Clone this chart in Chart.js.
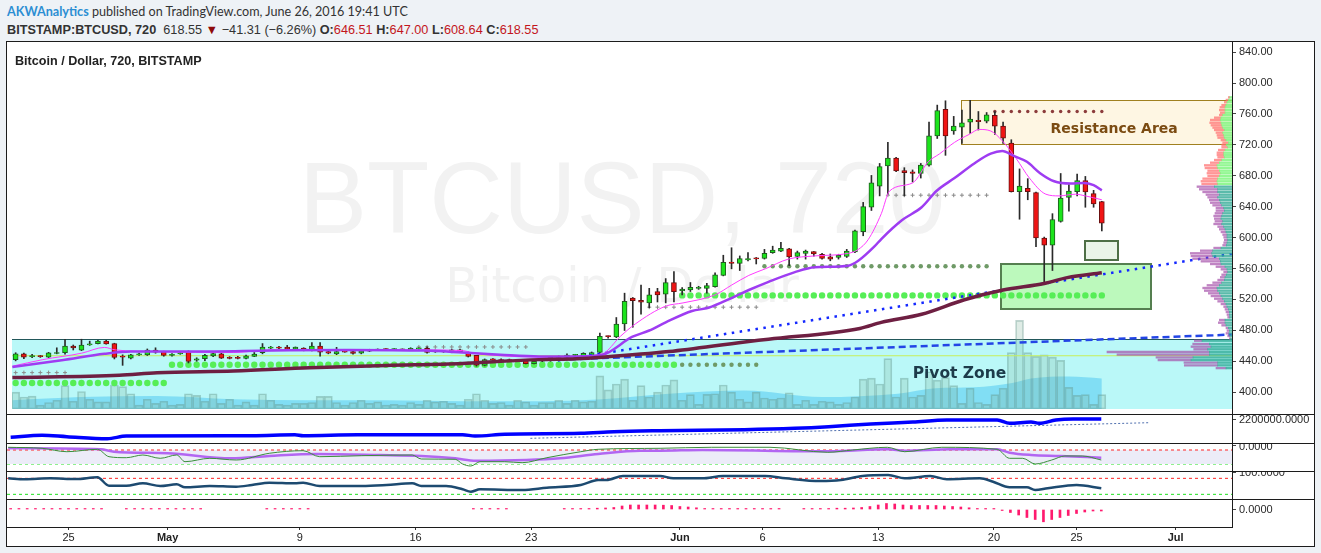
<!DOCTYPE html>
<html>
<head>
<meta charset="utf-8">
<title>BTCUSD 720</title>
<script src="https://cdn.jsdelivr.net/npm/chart.js@4.4.1/dist/chart.umd.min.js"></script>
<style>
  html, body { margin: 0; padding: 0; }
  body { width: 1321px; height: 553px; background: #eef2f6; position: relative; overflow: hidden; font-family: "Liberation Sans", Arial, sans-serif; }
  .abs { position: absolute; }
  #frame { left: 6px; top: 41px; width: 1307px; height: 504px; border: 1px solid #1c1c1c; background: #fff; }
  .hdr { left: 7px; color: #333; white-space: nowrap; }
  .red { color: #c3161c; }
  canvas { position: absolute; }
  .hl { position: absolute; height: 1px; background: #1c1c1c; z-index: 5; }
</style>
</head>
<body>
<div class="abs hdr" style="top:4px;font:12.6px Lato, sans-serif"><b style="color:#2b8ed3">AKWAnalytics</b> published on TradingView.com, June 26, 2016 19:41 UTC</div>
<div class="abs hdr" style="top:23px;font-size:12.7px"><b>BITSTAMP:BTCUSD, 720</b>&nbsp; 618.55 <span style="color:#8e0a0a">&#9660;</span> &minus;41.31 (&minus;6.26%) <b>O:</b><span class="red">646.51</span> <b>H:</b><span class="red">647.00</span> <b>L:</b><span class="red">608.64</span> <b>C:</b><span class="red">618.55</span></div>
<div id="frame" class="abs"></div>
<canvas id="cMain" width="1307" height="372" style="left:7px;top:42px;z-index:1"></canvas>
<canvas id="cProfile" width="172" height="372" style="left:1060px;top:42px;z-index:2"></canvas>
<canvas id="cObv" width="1307" height="29" style="left:7px;top:414px;z-index:1"></canvas>
<canvas id="cWpr" width="1307" height="28" style="left:7px;top:443px;z-index:1"></canvas>
<canvas id="cMfi" width="1307" height="28" style="left:7px;top:471px;z-index:1"></canvas>
<canvas id="cHist" width="1307" height="47" style="left:7px;top:499px;z-index:1"></canvas>
<div class="abs" style="left:15px;top:54px;font-size:12.6px;font-weight:bold;color:#222;z-index:3">Bitcoin / Dollar, 720, BITSTAMP</div>
<div class="hl" style="left:7px;top:414px;width:1307px"></div>
<div class="hl" style="left:7px;top:443px;width:1307px"></div>
<div class="hl" style="left:7px;top:471px;width:1307px"></div>
<div class="hl" style="left:7px;top:499px;width:1307px"></div>
<div class="hl" style="left:7px;top:527px;width:1226px"></div>
<div class="abs" style="left:1232px;top:42px;width:1px;height:485px;background:#1c1c1c;z-index:5"></div>
<script>
// 12h bars, bar 0 = Apr 21 00:00 UTC
const firstBar = 1;
const priceTicks = [400, 440, 480, 520, 560, 600, 640, 680, 720, 760, 800, 840];
const xTickBars = [8, 20, 36, 50, 64, 82, 92, 106, 120, 130, 142];
const xTickLabels = ['25', 'May', '9', '16', '23', 'Jun', '6', '13', '20', '25', 'Jul'];

const candleOpen = [442.1, 449.6, 446, 447, 445.3, 450, 451.1, 459.7, 454.2, 461, 462.9, 466, 462.9, 446, 444, 448.3, 448.3, 454.6, 452.5, 447.5,
  449.6, 452.5, 441.5, 443.3, 447, 449.6, 445, 445, 443.8, 446.4, 451.1, 457, 458, 458.2, 455.7, 457, 454.2, 459.7, 452.5, 449.6,
  452.5, 452.5, 450.6, 453, 454.5, 455.5, 455, 455.4, 454.7, 456, 456.7, 453.4, 453.4, 451.6, 454.7, 451.3, 447.5, 434.5, 442.5, 442.1,
  442, 441.8, 441.2, 437, 440, 440.8, 445, 445, 447.5, 446.2, 447.5, 451.3, 472.3, 471.4, 488.2, 521.8, 518.9, 515.5, 530.2, 526.8,
  541.9, 531, 532.2, 534.4, 534.4, 536.5, 551.1, 568.4, 566.7, 571.3, 573, 573, 580.6, 582.6, 585.6, 575.6, 579.7, 581.9, 578.5, 575,
  574.3, 575.6, 581.4, 607.8, 639.3, 666.6, 692.7, 703.1, 686.8, 685.1, 683, 693.9, 731.7, 766.1, 738, 743.1, 749.4, 751.9, 750.6, 758.2,
  744.3, 722.4, 659.4, 663.7, 658.2, 599.5, 590.2, 620.9, 651.9, 659.4, 673.8, 656.9, 646.51];
const candleHigh = [451, 450.5, 449, 447.5, 451.5, 457.4, 468.5, 461, 468.5, 466, 467.2, 467.2, 463.3, 448.3, 449, 450.5, 455.9, 457.4, 453, 450,
  452.5, 453.4, 444.5, 449, 451, 450.5, 446, 446.4, 448, 451.3, 462.9, 459.2, 459.4, 460.5, 458.5, 457.5, 464, 464, 454.6, 458,
  453.3, 453.4, 454.6, 455.5, 456, 456.4, 456.4, 456, 457.5, 457.5, 458.8, 454.5, 454.2, 455.5, 455.5, 452, 447.5, 443, 443.5, 443,
  442.8, 442.5, 442, 440.8, 442.5, 446, 446.8, 449.6, 449, 451, 452, 476.4, 473, 496.6, 528.1, 522.5, 538.5, 534.4, 534.4, 547,
  556.2, 535.3, 541.9, 537, 540.7, 554.5, 577.2, 586.9, 576.3, 580.6, 574.3, 584.8, 588.9, 594, 586, 582.6, 583.9, 582, 579.7, 578.8,
  578.5, 584.8, 609.9, 645.6, 680.5, 696, 723.3, 704, 690.5, 687.6, 696, 749.4, 771.5, 777.1, 756.9, 765.2, 777.8, 763.2, 761.9, 763.2,
  749.4, 726.7, 688.9, 676.3, 659, 600.7, 631, 683, 668.8, 682.1, 679.2, 661.2, 647];
const candleLow = [440.5, 443.3, 444.5, 445, 444.8, 449.6, 449, 454.6, 453.8, 460.5, 462.5, 462, 443, 434.7, 443, 447.5, 447.5, 450.4, 446.5, 446.5,
  449, 437.8, 440, 440.8, 446, 443.5, 443, 443, 443, 446, 449.6, 456.4, 456.4, 455.5, 455.5, 453.5, 453.5, 446.6, 449.6, 448.5,
  451.6, 449, 449.6, 452.5, 454, 454.6, 454.6, 453.8, 454, 455, 450.4, 451.5, 451.6, 451, 451, 445.5, 433.6, 434, 441, 439,
  440, 439.8, 436.5, 436.5, 439.5, 440, 444.5, 444.1, 446.8, 445.5, 447, 450.5, 470, 470.5, 479.8, 484, 500.8, 509.2, 516.7, 515.5,
  516.7, 525.9, 530.2, 533, 528.1, 536, 550.5, 559.6, 557.4, 570, 565.9, 572.2, 579.7, 581.9, 563.7, 572.2, 572.2, 576, 572.2, 570,
  572.2, 574.3, 580.5, 602.4, 635.1, 654, 656.2, 685.5, 654, 672, 677.1, 692.5, 728.3, 706.5, 733.7, 722, 735, 739.3, 748.5, 733.7,
  722, 659, 623.8, 649, 588.2, 541.9, 557.4, 620, 634.2, 654, 639.3, 639.3, 608.64];
const candleClose = [449.6, 445.3, 447, 446, 450.9, 451.3, 459.5, 457.2, 461, 462.6, 466, 462.4, 444.8, 445.3, 448.3, 449.3, 454.6, 451.6, 447.5, 449,
  451, 439.9, 443.1, 447.5, 450, 444.1, 443.8, 443.8, 447, 449.4, 458.2, 458, 457, 455.7, 458.2, 454, 459.7, 451.6, 450.6, 452.5,
  451.9, 450.2, 453.4, 455, 455.5, 455, 455.5, 454.8, 456.7, 456.5, 451.3, 452.1, 452.1, 454.7, 451.6, 446.2, 434.9, 442.1, 441.8, 439.9,
  440.5, 440.3, 437, 439.9, 441.5, 445, 445.8, 447.9, 447.9, 450.4, 451.3, 472.3, 471.8, 488.2, 517.6, 518.4, 516.4, 525.9, 525.9, 541.9,
  530.2, 533.5, 535.6, 535.6, 537.8, 552, 568, 566.7, 573, 573, 572.5, 579.7, 583.9, 586, 575, 580.6, 582.6, 578.8, 573, 572.2,
  577.2, 582.6, 608.7, 640.2, 670.8, 691.8, 703.1, 686.4, 683.9, 683, 693.9, 731.7, 764.5, 731.7, 744.3, 748.5, 753.5, 750.1, 759, 744.3,
  728.7, 659.4, 666.6, 659.4, 599.5, 590.2, 623.4, 651.1, 660.3, 673.8, 659.1, 643.6, 618.55];
const volume = [1730, 1230, 1330, 400, 670, 900, 2400, 800, 1800, 1000, 730, 730, 2470, 2300, 1570, 400, 1000, 570, 800, 400,
  470, 1570, 1400, 800, 1570, 570, 1000, 400, 730, 400, 1570, 900, 470, 400, 570, 570, 670, 1300, 1300, 670,
  400, 670, 900, 570, 730, 400, 470, 400, 670, 470, 900, 730, 800, 570, 400, 1000, 1570, 900, 570, 670,
  400, 900, 730, 400, 670, 670, 900, 570, 900, 730, 800, 3400, 1970, 2570, 3070, 900, 2400, 1230, 1730, 2470,
  3000, 900, 1470, 470, 1500, 1570, 2470, 1730, 1000, 730, 1730, 1130, 1000, 1130, 1670, 470, 900, 470, 800, 730,
  470, 670, 1230, 3070, 3170, 2570, 5170, 1230, 3170, 1230, 1400, 3830, 2970, 3230, 2400, 570, 2130, 670, 470, 1470,
  2130, 5800, 9100, 5800, 5400, 5570, 5330, 5000, 2230, 1400, 1470, 470, 1470];
const volMaBars = [0.6, 8.9, 18.2, 27.5, 36.7, 46, 55.3, 64.6, 72.3, 80.4, 89.6, 99, 108.2, 112.8, 117.5, 122.1, 124.4, 129, 133];
const volMaVals = [900, 1230, 1330, 1000, 900, 900, 800, 800, 1000, 1570, 1900, 1230, 1570, 2130, 2230, 2670, 3130, 3330, 3130];

const emaFastBars = [0.6, 4.3, 9, 11.8, 13.1, 18.2, 27.5, 32.1, 41.3, 50.7, 55.3, 56.7, 59.9, 64.6, 69.2, 72.3, 74.5, 76.3, 80, 82.1, 86, 88, 90.1,
  92.1, 94.9, 98.1, 102.2, 103.4, 104.6, 106.2, 107.2, 110, 111.9, 113.3, 115.1, 116.9, 118.1, 119.5, 120.9, 122.6, 124.2, 126.2, 127.8, 129.8, 131, 133];
const emaFastVals = [433.6, 442.1, 450.4, 457.9, 454.7, 452.5, 451.3, 454.7, 454.7, 454.7, 453.8, 450.4, 447.1, 445.3, 446.2, 449.6, 472.3, 488.2, 511.3, 515.5, 525.9, 538.5, 551.1,
  559.6, 572.2, 576.3, 579.7, 584.7, 597.3, 631, 660.3, 670.8, 698.1, 708.6, 723.3, 733.7, 740, 738, 725.4, 702.3, 677.1, 656.2, 654, 656.2, 654, 649];
const emaSlowBars = [0.6, 6.6, 11.8, 15, 22.8, 32.1, 41.3, 50.7, 55.3, 59.9, 64.6, 69.2, 72.3, 75.9, 78, 80, 83.2, 85.2, 88, 90.1, 92.5,
  95.7, 98.1, 102.2, 103.4, 105.4, 106.2, 108.7, 111.1, 112.9, 115.1, 117.5, 119.5, 120.9, 122.3, 123.9, 125.5, 127.2, 129.2, 130.8, 132, 133];
const emaSlowVals = [432.7, 441.2, 449.6, 452.5, 452.5, 453.8, 454.7, 453.8, 451.3, 448.4, 446.2, 446.2, 448.4, 471.4, 479.8, 490.3, 505, 509.2, 521.8, 532.2, 542.8,
  555.4, 561.7, 563.7, 570, 588.9, 598.2, 622.5, 639.3, 660.3, 677.1, 696, 708.6, 712, 705.7, 698.1, 683.4, 672.9, 670, 670.8, 667.9, 661.2];
const smaBars = [0.6, 13.6, 18.2, 27.5, 36.7, 46, 55.3, 59.9, 64.6, 69.2, 72.3, 80.4, 89.6, 92.5, 103.6, 106.2, 111.1, 116.3, 121, 126, 128.8, 133];
const smaVals = [418.9, 421.9, 425.2, 427.3, 431.5, 434.5, 437, 439.9, 442.1, 443.3, 445.3, 452.5, 465, 468.5, 482.5, 490.3, 500.8, 519.6, 532.2, 540.7, 548.2, 554.5];

const trendDottedBars = [66.9, 148.8];
const trendDottedVals = [441, 579];
const trendDashedBars = [66.9, 148.8];
const trendDashedVals = [442, 474.5];
const midLineVal = 447.1;

// pivot levels drawn as dot rows
const levelStart = [1, 1, 20, 82, 82, 92, 50, 78, 107, 120];
const levelEnd = [19, 7, 81, 91, 133, 119, 63, 91, 119, 133];
const levelPrice = [411.8, 425.3, 435.5, 435.5, 525.2, 563, 458.5, 510, 654.9, 763.2];
const levelKind = ['support', 'minor', 'support', 'old', 'support', 'old', 'minor', 'minor', 'minor', 'resist'];

// drawings
const pivotZoneTop = 468.5;
const resistBox = { b0: 115.9, b1: 148.82, p0: 721.6, p1: 778.6 };
const targetBox = { b0: 120.8, b1: 139, p0: 507, p1: 565.9 };
const smallBox = { b0: 130.9, b1: 135, p0: 570.9, p1: 596 };

// visible range volume profile
const vpPrice = [777, 773.7, 770.8, 767.2, 764.5, 761, 757.7, 754.8, 751.4, 748.5, 745, 741.8, 738.8, 735.9, 732.5, 729.2, 726.2, 723.1, 719.9, 717,
  714.1, 710.7, 707.3, 704.4, 701.5, 698.1, 694.7, 691.4, 688, 684.6, 681.4, 678, 674.6, 671.3, 667.9, 664.5, 661.2, 657.8, 654.4, 651.1,
  647.7, 644.3, 641, 637.6, 634.3, 631, 627.6, 624.2, 620.9, 617.5, 614.1, 610.8, 607.4, 604, 600.7, 597.3, 594, 590.7, 587.3, 583.9,
  580.6, 577.2, 573.8, 570.5, 567.1, 563.7, 560.4, 557, 553.6, 550.4, 547, 543.6, 540.3, 536.9, 533.5, 530.2, 526.8, 523.4, 520.1, 516.7,
  513.3, 510, 506.7, 503.3, 500, 496.6, 493.2, 489.9, 486.5, 483.2, 479.8, 476.4, 473, 470.5, 466.4, 463, 459.7, 456.3, 453, 449.6,
  446.2, 442.9, 439.5, 436];
const vpUp = [2.3, 3.7, 5, 6, 7, 7, 7, 9.3, 11, 11.7, 11, 10.3, 9.3, 7.7, 9.3, 8.3, 7.7, 6, 3.7, 5.7,
  4.3, 7, 8.3, 8.3, 7.7, 10.3, 12.7, 15, 14.3, 12.7, 11.7, 12.7, 14.3, 15, 14.3, 17.7, 14.3, 14.3, 12.7, 14.3,
  12.7, 11.7, 10.3, 8.3, 7.7, 9.3, 10.3, 11, 9.3, 10.3, 8.3, 7, 6, 5, 5, 4.3, 5, 5.7, 11, 19.3,
  20.3, 19.3, 12.7, 11.7, 11, 7, 5, 4.3, 5.7, 7, 7.7, 10.3, 12.7, 15, 14.3, 12.7, 11, 9.3, 7.7, 6,
  5, 3.7, 2.7, 2.7, 2.3, 7, 7, 6, 3.7, 2.7, 3, 2.3, 1.5, 30, 22.7, 21, 24.3, 22.7, 22.7, 39,
  41, 14.3, 14.3, 6];
const vpDown = [1.4, 2.3, 2.7, 4.3, 5, 5.7, 4.7, 3.4, 6.7, 10, 11.3, 10.7, 10, 10, 6.7, 6.7, 6.6, 5, 5.6, 4.6,
  6, 6.7, 6.7, 6.7, 6.6, 7.4, 9, 12.7, 12.7, 11.6, 13.3, 11.6, 15, 16, 16, 17.3, 18.4, 15, 13.3, 10,
  10, 10, 9, 7.7, 8.3, 7.7, 8, 6.7, 7.7, 8, 6, 5.7, 5, 4.3, 3.3, 3.4, 3.3, 3.6, 7.3, 12.4,
  21.4, 21.7, 26.6, 19.3, 10.7, 9, 6, 4, 4.6, 4.7, 6.6, 9, 12.3, 14.3, 13.4, 11, 10, 8.4, 6.6, 5,
  3.3, 3.3, 3.3, 2.3, 2, 5.7, 6.7, 4.3, 2.3, 2.3, 3, 2, 1.2, 7.7, 16.6, 20, 14, 102.3, 92.3, 37,
  33, 33.7, 33.4, 10];
const valueAreaHigh = 665;

// lower panes
const obvBars = [1, 4.8, 7.8, 12.7, 15, 30.2, 35.4, 36.4, 43, 55.7, 57.2, 60.8, 70, 74, 79.6, 89.8, 95.9, 100, 105.1, 110.2, 114.3, 120.4, 121.9, 124.5, 125.5, 127.5, 129.6, 133];
const obvVals = [1597000, 1666000, 1617000, 1548000, 1641000, 1652000, 1686000, 1652000, 1686000, 1686000, 1641000, 1700000, 1734000, 1790000, 1824000,
  1859000, 1907000, 1962000, 2055000, 2124000, 2193000, 2193000, 2079000, 2124000, 2079000, 2193000, 2228000, 2228000];
const obvTrendBars = [63.9, 138.8];
const obvTrendVals = [1562000, 2100000];

const wprSlowBars = [0.7, 11.9, 13.5, 20, 27.7, 32.3, 38, 45.6, 50.7, 54.8, 57.3, 63.4, 67.5, 72.1, 77.2, 79.6, 84.7, 99.9, 107.2, 109.2, 114.7, 120.4, 121.9, 124.5, 128, 133];
const wprSlowVals = [-12.7, -17, -27.3, -34.1, -55.6, -45.7, -37.1, -41.4, -45.7, -55.6, -65.9, -62.9, -55.6, -37.1, -23, -23, -20, -25.6, -17, -23, -17, -17, -31.6, -41.4, -45.7, -53];
const wprFastBars = [0.7, 4.8, 7.8, 11.5, 12.9, 15, 17, 19.1, 21.1, 22.1, 25.1, 28.3, 32.3, 36.4, 38.4, 43.5, 49.6, 50.7, 54.8, 55.7, 56.7, 57.8,
  60.8, 62.9, 65.9, 70, 72.1, 79.6, 85.8, 92.9, 99.9, 102.9, 107.1, 109.2, 113.7, 120.4, 121.9, 123.5, 125, 127, 128.6, 130.7, 133];
const wprFastVals = [-8.4, -12.7, -27.3, -17, -48.7, -53, -41.4, -55.6, -41.4, -70.1, -55.6, -62.9, -34.1, -23, -48.7, -44.4, -41.4, -58.6, -59.9, -80, -88.6, -70.1,
  -70.1, -74.4, -53, -27.3, -17, -12.7, -8.4, -8.4, -29.9, -20, -8.4, -27.3, -8.4, -17, -55.6, -55.6, -80, -62.9, -45.7, -45.7, -62.9];
const wprBands = [-20, -80];

const mfiBars = [0.7, 2.7, 5.8, 8.9, 11.5, 12.9, 15, 17, 19.1, 21.1, 22.1, 25.1, 28.3, 30.2, 32.3, 35.4, 36.4, 38.4, 43.5, 46.5, 49.6, 50.7, 53.7, 55.7, 56.7, 57.8,
  62.9, 65.9, 70, 72.1, 73.1, 75.1, 79.6, 81.2, 84.7, 87.2, 92.3, 94.8, 99, 101.5, 104.1, 107.2, 109.2, 112.3, 114.3, 118.3, 119.9, 121.9, 124, 125, 126.5, 130, 133];
const mfiVals = [80.1, 76.4, 80.1, 77.5, 83.9, 52.4, 52.4, 61.4, 51.3, 57.6, 46.4, 51.3, 48.6, 55, 63.6, 61.4, 63.6, 51.3, 51.3, 55, 61.4, 51.3, 51.3, 38.9, 29.9, 38.9,
  36.3, 44.9, 55, 73.8, 73.8, 88.8, 88.8, 80.1, 80.1, 88.8, 88.8, 80.1, 70, 73.8, 88.8, 92.5, 80.1, 88.8, 76.4, 80.1, 67.4, 46.4, 46.4, 36.3, 42.6, 55, 42.6];
const mfiBands = [80, 20];

const histo = [1, 1, 1, 1, 1, 1, 1, 1, 1, 1, 1, 1, null, null, 1, 1, 1, 1, 1, 1,
  1, 1, 1, 1, null, null, null, null, null, null, null, 1, 1, 1, 1, 1, 1, null, null, null,
  null, null, null, null, null, null, null, null, null, null, null, null, null, null, null, null, 1, 1, 1, 1,
  1, null, null, null, null, null, null, 1, 1, 1, 1, 1.3, 1.5, 2, 3.5, 4.5, 4.5, 4.5, 4.5, 4.3,
  4, 3, 2.5, 1.7, 1, 1, 1, 1, 1, 1, 1, 1, 1, 1, null, null, 1, 1, 1, 1,
  1.3, 1.3, 1.5, 2, 3, 4.5, 6, 5.5, 4.5, 4, 4, 4, 4, 3.5, 3, 2.5, 1.7, 1, 1, 1,
  -1, -3, -5.5, -8, -10, -12.3, -10, -8, -6, -4, -2.5, -1.5, -1.5];

Chart.defaults.font.family = '"Liberation Sans", Arial, sans-serif';
const X_MIN = 0.5566, X_MAX = 148.82;
const AXIS_W = 82;
const candleBars = candleOpen.map((_, i) => firstBar + i);
const isUp = i => candleClose[i] >= candleOpen[i];

function xAxis() {
  return { type: 'linear', min: X_MIN, max: X_MAX, display: false, offset: false, grid: { offset: false } };
}

function rightAxis(min, max, tickVals, fmt, labelOffset) {
  return {
    type: 'linear', position: 'right', min, max, bounds: 'data',
    afterBuildTicks: s => { s.ticks = tickVals.map(v => ({ value: v })); },
    afterFit: s => { s.width = AXIS_W; s.paddingTop = 0; s.paddingBottom = 0; },
    border: { display: false },
    grid: { drawOnChartArea: false, drawTicks: true, tickLength: 4, color: '#444' },
    ticks: { callback: v => fmt(v), color: '#2a2a2a', font: { size: 11 }, padding: 3, autoSkip: false, labelOffset: labelOffset || 0 }
  };
}

function baseOptions(scales) {
  return {
    responsive: false, devicePixelRatio: 1, animation: false, events: [],
    layout: { padding: 0 },
    plugins: { legend: { display: false }, tooltip: { enabled: false } },
    scales
  };
}

function lineSet(bars, vals, color, width, extra) {
  return Object.assign({
    type: 'line', data: bars.map((b, i) => ({ x: b, y: vals[i] })),
    borderColor: color, borderWidth: width, pointRadius: 0, fill: false,
    cubicInterpolationMode: 'monotone', order: 1
  }, extra || {});
}

function flatLine(val, color, extra) {
  return lineSet([X_MIN, X_MAX], [val, val], color, 1, extra);
}

const levelStyle = {
  support: { shape: 'circle', r: 3.2, fill: '#56ee56', border: '#56ee56', bw: 0 },
  old: { shape: 'circle', r: 2.2, fill: '#6f9a67', border: '#6f9a67', bw: 0 },
  minor: { shape: 'cross', r: 2, fill: '#8a8a8a', border: '#8a8a8a', bw: 1 },
  resist: { shape: 'circle', r: 1.7, fill: '#8c3c3c', border: '#8c3c3c', bw: 0 }
};

const levelSets = levelPrice.map((p, k) => {
  const pts = [];
  for (let b = levelStart[k]; b <= levelEnd[k]; b++) pts.push({ x: b, y: p });
  const st = levelStyle[levelKind[k]];
  return {
    type: 'line', showLine: false, data: pts, pointStyle: st.shape, pointRadius: st.r,
    pointBackgroundColor: st.fill, pointBorderColor: st.border, pointBorderWidth: st.bw, order: 6
  };
});

const drawings = {
  id: 'drawings',
  beforeDatasetsDraw(chart) {
    const { ctx, chartArea: a, scales: { x, y } } = chart;
    const cx = (a.left + a.right) / 2;
    ctx.save();
    ctx.textAlign = 'center';
    ctx.textBaseline = 'alphabetic';
    ctx.fillStyle = '#f2f2f2';
    ctx.font = '102px "Liberation Sans", Arial, sans-serif';
    ctx.fillText('BTCUSD, 720', cx, 191);
    ctx.font = '48px "DejaVu Sans", sans-serif';
    ctx.fillText('Bitcoin / Dollar', cx, 260);

    const zt = Math.round(y.getPixelForValue(pivotZoneTop));
    ctx.fillStyle = '#baf8f8';
    ctx.fillRect(a.left, zt, a.right - a.left, a.bottom - zt);
    ctx.fillStyle = '#22575a';
    ctx.fillRect(a.left, zt, a.right - a.left, 1);

    const box = (bx, fill, stroke, lw) => {
      const l = Math.round(x.getPixelForValue(bx.b0)), r = Math.round(x.getPixelForValue(bx.b1));
      const t = Math.round(y.getPixelForValue(bx.p1)), b = Math.round(y.getPixelForValue(bx.p0));
      ctx.fillStyle = fill;
      ctx.fillRect(l, t, r - l, b - t);
      ctx.strokeStyle = stroke;
      ctx.lineWidth = lw;
      const h = lw % 2 ? 0.5 : 0;
      ctx.strokeRect(l + h, t + h, r - l, b - t);
    };
    box(resistBox, '#fef6e3', '#a0801f', 1);
    box(targetBox, '#bcf9bc', '#557f50', 2);
    box(smallBox, '#eaf4e8', '#4e6f46', 2);
    ctx.restore();
  },
  afterDatasetsDraw(chart) {
    const { ctx, scales: { x, y } } = chart;
    ctx.save();
    ctx.textAlign = 'center';
    ctx.textBaseline = 'middle';
    ctx.font = 'bold 14px "DejaVu Sans", sans-serif';
    ctx.fillStyle = '#7b4b12';
    ctx.fillText('Resistance Area', x.getPixelForValue(134.5), y.getPixelForValue(740));
    ctx.font = 'bold 15.5px "DejaVu Sans", sans-serif';
    ctx.fillStyle = '#1d3b4a';
    ctx.fillText('Pivot Zone', x.getPixelForValue(115.7), y.getPixelForValue(423.2));
    ctx.restore();
  }
};

// main price pane
new Chart(document.getElementById('cMain'), {
  type: 'bar',
  data: {
    datasets: [
      lineSet(volMaBars, volMaVals, 'rgba(0,0,0,0)', 0, { yAxisID: 'yv', fill: 'origin', backgroundColor: 'rgba(60,190,240,0.45)', order: 9 }),
      {
        type: 'bar', yAxisID: 'yv', data: candleBars.map((b, i) => ({ x: b, y: volume[i] })),
        backgroundColor: 'rgba(130,180,160,0.26)', borderColor: 'rgba(95,145,135,0.4)', borderWidth: 1,
        borderSkipped: false, barThickness: 8, grouped: false, order: 8
      },
      flatLine(midLineVal, '#c6ef5a', { order: 7 }),
      ...levelSets,
      {
        type: 'bar', data: candleBars.map((b, i) => ({ x: b, y: [candleLow[i], candleHigh[i]] })),
        backgroundColor: '#2a2a2a', barThickness: 1, grouped: false, order: 4
      },
      {
        type: 'bar', data: candleBars.map((b, i) => ({ x: b, y: [candleOpen[i], candleClose[i]] })),
        backgroundColor: ctx => isUp(ctx.dataIndex) ? '#1ce41c' : '#f01414',
        borderColor: ctx => isUp(ctx.dataIndex) ? '#1f5a1f' : '#6a1010',
        borderWidth: 1, borderSkipped: false, barThickness: 5, minBarLength: 1, grouped: false, order: 3
      },
      lineSet(trendDottedBars, trendDottedVals, '#1428ff', 2.5, { borderDash: [2.5, 5.5], order: 2 }),
      lineSet(trendDashedBars, trendDashedVals, '#2345e6', 2.5, { borderDash: [7, 4], order: 2 }),
      lineSet(smaBars, smaVals, '#6e1f42', 3.5),
      lineSet(emaSlowBars, emaSlowVals, '#9e3cf2', 2.5),
      lineSet(emaFastBars, emaFastVals, '#ff3cff', 1)
    ]
  },
  options: baseOptions({
    x: xAxis(),
    y: rightAxis(378.2, 846.7, priceTicks, v => v.toFixed(2)),
    yv: { type: 'linear', display: false, min: 0, max: 37200 }
  }),
  plugins: [drawings]
});

// volume profile overlay
const inVA = p => p <= valueAreaHigh;
new Chart(document.getElementById('cProfile'), {
  type: 'bar',
  data: {
    datasets: [
      {
        data: vpPrice.map((p, i) => ({ y: p, x: vpUp[i] })), stack: 'vp', barThickness: 1.7,
        backgroundColor: ctx => inVA(vpPrice[ctx.dataIndex]) ? 'rgba(50,170,150,0.8)' : 'rgba(120,245,120,0.8)'
      },
      {
        data: vpPrice.map((p, i) => ({ y: p, x: vpDown[i] })), stack: 'vp', barThickness: 1.7,
        backgroundColor: ctx => inVA(vpPrice[ctx.dataIndex]) ? 'rgba(165,80,170,0.7)' : 'rgba(255,115,115,0.75)'
      }
    ]
  },
  options: Object.assign(baseOptions({
    x: { type: 'linear', min: 0, max: 172, reverse: true, display: false, stacked: true },
    y: { type: 'linear', min: 378.2, max: 846.7, display: false, offset: false, grid: { offset: false } }
  }), { indexAxis: 'y' })
});

// OBV-like pane
new Chart(document.getElementById('cObv'), {
  type: 'line',
  data: {
    datasets: [
      lineSet(obvTrendBars, obvTrendVals, '#4f6fae', 1, { borderDash: [2, 2], order: 2 }),
      lineSet(obvBars, obvVals, '#0000ff', 3.5)
    ]
  },
  options: baseOptions({ x: xAxis(), y: rightAxis(1400000, 2400000, [2200000], v => v.toFixed(4)) })
});

// %R pane
new Chart(document.getElementById('cWpr'), {
  type: 'line',
  data: {
    datasets: [
      flatLine(wprBands[0], '#ff2424', { borderDash: [3, 3], fill: '+1', backgroundColor: '#ececf8', order: 5 }),
      flatLine(wprBands[1], '#1fe01f', { borderDash: [3, 3], order: 5 }),
      lineSet(wprSlowBars, wprSlowVals, '#b266f2', 2.5, { order: 2 }),
      lineSet(wprFastBars, wprFastVals, '#3a8f3a', 1, { order: 1 })
    ]
  },
  options: baseOptions({ x: xAxis(), y: rightAxis(-110, 10, [0], v => v.toFixed(4), 2) })
});

// MFI-like pane
new Chart(document.getElementById('cMfi'), {
  type: 'line',
  data: {
    datasets: [
      flatLine(mfiBands[0], '#ff2424', { borderDash: [3, 3], order: 5 }),
      flatLine(mfiBands[1], '#1fe01f', { borderDash: [3, 3], order: 5 }),
      lineSet(mfiBars, mfiVals, '#1d4a70', 2.5)
    ]
  },
  options: baseOptions({ x: xAxis(), y: rightAxis(2.5, 107.5, [100], v => v.toFixed(4)) })
});

// histogram pane with the date axis
const histX = xAxis();
Object.assign(histX, {
  display: true,
  afterBuildTicks: s => { s.ticks = xTickBars.map(v => ({ value: v })); },
  afterFit: s => { s.height = 19; s.paddingLeft = 0; s.paddingRight = 0; },
  border: { display: false },
  grid: { offset: false, drawOnChartArea: false, drawTicks: true, tickLength: 3, color: '#333' },
  ticks: {
    autoSkip: false, maxRotation: 0, minRotation: 0, padding: 1, color: '#222',
    callback: (v, i) => xTickLabels[i],
    font: ctx => ({ size: 11, weight: /[A-Za-z]/.test(xTickLabels[ctx.index] || '') ? 'bold' : 'normal' })
  }
});
new Chart(document.getElementById('cHist'), {
  type: 'bar',
  data: {
    datasets: [{
      data: candleBars.map((b, i) => ({ x: b, y: histo[i] })),
      backgroundColor: '#ff1a6e', barThickness: 2, grouped: false
    }]
  },
  options: baseOptions({ x: histX, y: rightAxis(-17.5, 10.5, [0], v => v.toFixed(4)) })
});
</script>
</body>
</html>
